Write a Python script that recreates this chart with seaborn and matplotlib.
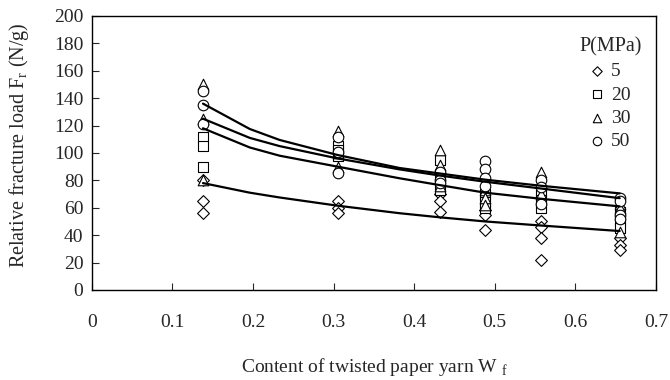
import pandas as pd
import seaborn as sns
import matplotlib.pyplot as plt

# contenido de hilo de papel (x) de cada grupo
x_groups = [0.138, 0.305, 0.432, 0.488, 0.558, 0.655]

# valores medidos por presion (MPa), una lista por grupo de x
p5 = [[80, 65, 56], [65, 60, 56], [70, 65, 57], [58, 55, 44], [50, 46, 38, 22], [38, 33, 29]]
p20 = [[112, 105, 90], [105, 102, 98], [95, 83, 73], [70, 64, 60], [72, 66, 60], [57, 50, 45]]
p30 = [[150, 125, 80], [116, 100, 90], [102, 91, 76], [73, 67, 62], [86, 78, 70], [63, 60, 42]]
p50 = [[145, 135, 121], [112, 101, 85], [86, 80, 78], [94, 88, 82, 76], [80, 75, 63], [67, 65, 55, 52]]

# curvas de tendencia
trend_x = [0.138, 0.196, 0.233, 0.305, 0.382, 0.432, 0.488, 0.558, 0.655]
trend_50 = [136, 117.5, 109.5, 98.5, 89, 85, 80.5, 76, 70.5]
trend_30 = [125, 111, 105, 96, 88, 83.5, 79, 74, 67]
trend_20 = [118, 104, 98, 90, 81.5, 76.5, 71, 66.5, 61]
trend_5 = [78, 71, 67.5, 61.5, 56, 53, 50, 47, 43]

series = {'5': p5, '20': p20, '30': p30, '50': p50}
markers = {'5': 'D', '20': 's', '30': '^', '50': 'o'}
sizes = {'5': 36, '20': 52, '30': 58, '50': 58}

rows = []
for name, groups in series.items():
    for xv, vals in zip(x_groups, groups):
        for v in vals:
            rows.append({'W': xv, 'F': v, 'P': name})
df = pd.DataFrame(rows)

sns.set_style('ticks')
plt.rcParams['font.family'] = ['Liberation Serif', 'DejaVu Serif']
plt.rcParams['mathtext.fontset'] = 'custom'
plt.rcParams['mathtext.rm'] = 'Liberation Serif'

fig = plt.figure(figsize=(6.7, 3.8), dpi=100)
ax = fig.add_axes([0.137, 0.237, 0.842, 0.721])

for ty in [trend_5, trend_20, trend_30, trend_50]:
    sns.lineplot(x=trend_x, y=ty, ax=ax, color='black', linewidth=1.6, legend=False, zorder=3)

for name in series:
    sub = df[df['P'] == name]
    sns.scatterplot(data=sub, x='W', y='F', ax=ax, marker=markers[name], s=sizes[name],
                    color='white', edgecolor='black', linewidth=0.8, zorder=2, label=name)

ax.set_xlim(0, 0.7)
ax.set_ylim(0, 200)
ax.set_xticks([0, 0.1, 0.2, 0.3, 0.4, 0.5, 0.6, 0.7])
ax.set_xticklabels(['0', '0.1', '0.2', '0.3', '0.4', '0.5', '0.6', '0.7'])
ax.set_yticks(range(0, 201, 20))
ax.tick_params(axis='x', direction='in', length=5, pad=17, labelsize=14, width=0.8)
ax.tick_params(axis='y', direction='in', length=5, pad=6, labelsize=14, width=0.8)
for sp in ax.spines.values():
    sp.set_linewidth(1.0)
    sp.set_color('black')

ax.set_xlabel(r'Content of twisted paper yarn W $_\mathregular{f}$', fontsize=14, labelpad=18)
ax.set_ylabel(r'Relative fracture load F$_\mathregular{r}$ (N/g)', fontsize=14.5)
ax.yaxis.set_label_coords(-0.107, 0.53)

handles, labels = ax.get_legend_handles_labels()
leg = ax.legend(handles, labels, title='P(MPa)', frameon=False, loc='upper left',
                bbox_to_anchor=(0.85, 0.95), fontsize=14, title_fontsize=14.5,
                handlelength=0.7, handletextpad=0.35, labelspacing=0.3, borderaxespad=0,
                markerscale=0.8)

fig.savefig('out.png', dpi=100)
